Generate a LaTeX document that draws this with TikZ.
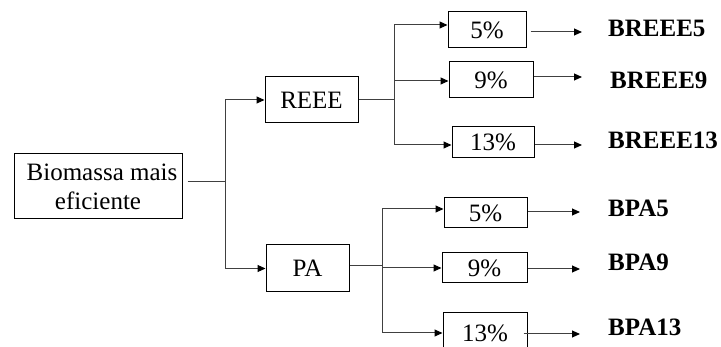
\documentclass[tikz,border=0pt]{standalone}
\usepackage{fontspec}
\setmainfont{Liberation Serif}
\usetikzlibrary{arrows.meta}
\begin{document}
\begin{tikzpicture}[x=1pt,y=-1pt,
  box/.style={draw=black,line width=1pt,inner sep=0pt,
    font=\fontsize{25}{29}\selectfont},
  res/.style={anchor=west,inner sep=0pt,font=\fontsize{25}{29}\selectfont\bfseries},
  link/.style={draw=black!75,line width=1pt},
  arr/.style={link,-{Triangle[length=8pt,width=7pt,color=black]}}]
\clip (0,0) rectangle (721,347);

% source and first level
\node[box,minimum width=168pt,minimum height=65pt,align=center] (bio) at (98,186.5)
  {\hspace*{8pt}Biomassa mais\\eficiente};
\node[box,minimum width=93pt,minimum height=46pt] (reee) at (311.5,100) {REEE};
\node[box,minimum width=83pt,minimum height=47pt] (pa) at (307.5,268.5) {PA};

% REEE rates
\node[box,minimum width=78pt,minimum height=36pt] (r5) at (487,30) {5\%};
\node[box,minimum width=84pt,minimum height=36pt] (r9) at (491,80) {9\%};
\node[box,minimum width=82pt,minimum height=31pt] (r13) at (493,142.5) {13\%};

% PA rates
\node[box,minimum width=83pt,minimum height=30pt] (a5) at (485.5,213) {5\%};
\node[box,minimum width=85pt,minimum height=30pt] (a9) at (484.5,268) {9\%};
\node[box,minimum width=84pt,minimum height=40pt] (a13) at (485,333) {13\%};

% results
\node[res] (lr5) at (608,28) {BREEE5};
\node[res] (lr9) at (610,80) {BREEE9};
\node[res] (lr13) at (608,140) {BREEE13};
\node[res] (la5) at (608,208) {BPA5};
\node[res] (la9) at (608,262) {BPA9};
\node[res] (la13) at (608,327) {BPA13};

% branch points
\coordinate (s0) at (225,182);
\coordinate (s1) at (394,100);
\coordinate (s2) at (382,266);

% first split
\draw[link] (bio.east) ++(5,-4.5) -- (s0);
\draw[arr] (s0) |- (reee.west);
\draw[arr] (s0) |- (pa.west);

% REEE split
\draw[link] (reee.east) -- (s1);
\draw[link] (s1) -- (s1 |- 0,25);
\draw[link] (s1) -- (s1 |- 0,145);
\draw[arr] (s1 |- 0,25) -- (r5.west |- 0,25);
\draw[arr] (s1 |- 0,81) -- (r9.west |- 0,81);
\draw[arr] (s1 |- 0,145) -- (r13.west |- 0,145);

% PA split
\draw[link] (pa.east) ++(0,-2.5) -- (s2);
\draw[link] (s2) -- (s2 |- 0,209);
\draw[link] (s2) -- (s2 |- 0,333);
\draw[arr] (s2 |- 0,209) -- (a5.west |- 0,209);
\draw[arr] (s2 |- 0,268) -- (a9.west |- 0,268);
\draw[arr] (s2 |- 0,333) -- (a13.west |- 0,333);

% outputs
\draw[arr,shorten <=4pt,shorten >=26pt] (r5.east |- 0,32) -- (lr5.west |- 0,32);
\draw[arr,shorten >=28pt] (r9.east |- 0,77) -- (lr9.west |- 0,77);
\draw[arr,shorten >=26pt] (r13.east |- 0,145) -- (lr13.west |- 0,145);
\draw[arr,shorten >=28pt] (a5.east |- 0,212) -- (la5.west |- 0,212);
\draw[arr,shorten >=28pt] (a9.east |- 0,269) -- (la9.west |- 0,269);
\draw[arr,shorten <=-4pt,shorten >=28pt] (a13.east |- 0,334) -- (la13.west |- 0,334);
\end{tikzpicture}
\end{document}
